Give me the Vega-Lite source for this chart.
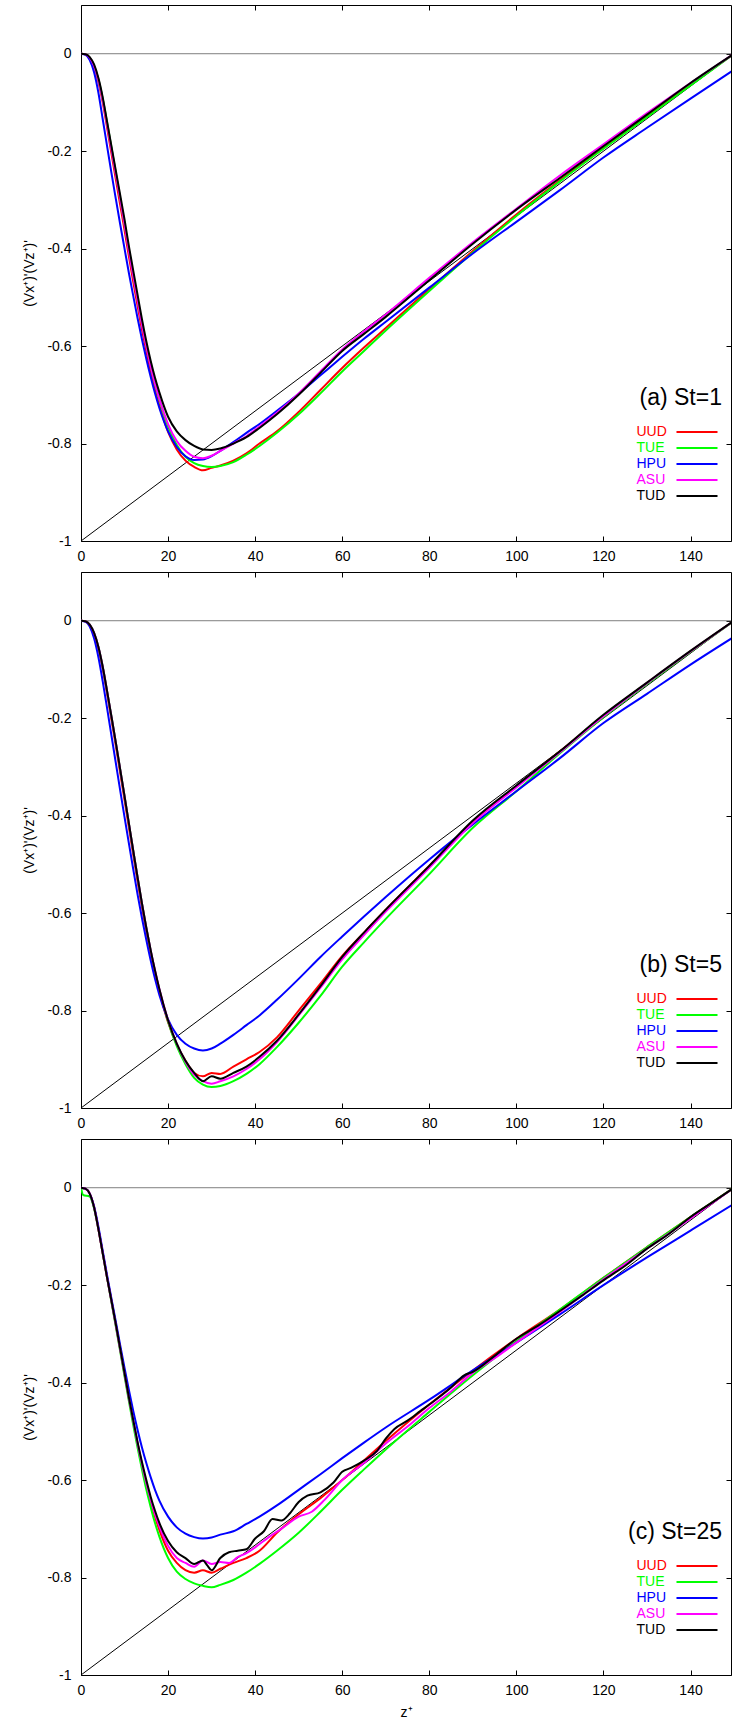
{
"$schema": "https://vega.github.io/schema/vega-lite/v6.json",
"padding": {"left": 22, "top": 4, "right": 0, "bottom": 0},
"config": {
  "view": {"stroke": "black", "strokeWidth": 1},
  "font": "Liberation Sans",
  "axis": {"domain": false, "grid": false, "ticks": true, "tickSize": -5, "tickColor": "black", "tickWidth": 1, "labelFont": "Liberation Sans", "labelFontSize": 14, "labelColor": "black", "labelFlush": false, "titleFont": "Liberation Sans", "titleFontSize": 14, "titleFontWeight": "normal", "titleColor": "black"},
  "legend": {"titleFont": "Liberation Sans", "titleFontSize": 23, "titleFontWeight": "normal", "titleColor": "black", "titleAnchor": "end", "titlePadding": 14, "labelFont": "Liberation Sans", "labelFontSize": 14, "labelOffset": -68.5, "symbolOffset": 62, "symbolType": "M-2.93,0H2.93", "symbolSize": 196, "symbolStrokeWidth": 2, "rowPadding": 1, "padding": 0, "offset": 0}
},
"datasets": {
  "diag": [{"z": 0, "v": -1}, {"z": 150, "v": 0}],
  "zero": [{"v": 0}],
  "curves": [
{"p":"a","s":"UUD","z":0,"v":0},{"p":"a","s":"UUD","z":1,"v":-0.001},{"p":"a","s":"UUD","z":2,"v":-0.009},{"p":"a","s":"UUD","z":3,"v":-0.028},{"p":"a","s":"UUD","z":4,"v":-0.058},{"p":"a","s":"UUD","z":5,"v":-0.1},{"p":"a","s":"UUD","z":6,"v":-0.152},{"p":"a","s":"UUD","z":7,"v":-0.205},{"p":"a","s":"UUD","z":8,"v":-0.258},{"p":"a","s":"UUD","z":9,"v":-0.31},{"p":"a","s":"UUD","z":10,"v":-0.362},{"p":"a","s":"UUD","z":11,"v":-0.416},{"p":"a","s":"UUD","z":12,"v":-0.468},{"p":"a","s":"UUD","z":13,"v":-0.518},{"p":"a","s":"UUD","z":14,"v":-0.566},{"p":"a","s":"UUD","z":15,"v":-0.61},{"p":"a","s":"UUD","z":16,"v":-0.652},{"p":"a","s":"UUD","z":17,"v":-0.69},{"p":"a","s":"UUD","z":18,"v":-0.722},{"p":"a","s":"UUD","z":20,"v":-0.776},{"p":"a","s":"UUD","z":22,"v":-0.812},{"p":"a","s":"UUD","z":24,"v":-0.835},{"p":"a","s":"UUD","z":26,"v":-0.848},{"p":"a","s":"UUD","z":28,"v":-0.855},{"p":"a","s":"UUD","z":30,"v":-0.85},{"p":"a","s":"UUD","z":32,"v":-0.845},{"p":"a","s":"UUD","z":35,"v":-0.835},{"p":"a","s":"UUD","z":38,"v":-0.82},{"p":"a","s":"UUD","z":41,"v":-0.8},{"p":"a","s":"UUD","z":45,"v":-0.775},{"p":"a","s":"UUD","z":50,"v":-0.735},{"p":"a","s":"UUD","z":55,"v":-0.69},{"p":"a","s":"UUD","z":60,"v":-0.645},{"p":"a","s":"UUD","z":65,"v":-0.603},{"p":"a","s":"UUD","z":70,"v":-0.563},{"p":"a","s":"UUD","z":80,"v":-0.483},{"p":"a","s":"UUD","z":90,"v":-0.405},{"p":"a","s":"UUD","z":100,"v":-0.33},{"p":"a","s":"UUD","z":110,"v":-0.26},{"p":"a","s":"UUD","z":120,"v":-0.194},{"p":"a","s":"UUD","z":130,"v":-0.128},{"p":"a","s":"UUD","z":140,"v":-0.063},{"p":"a","s":"UUD","z":150,"v":0},
{"p":"a","s":"TUE","z":0,"v":0},{"p":"a","s":"TUE","z":1,"v":-0.001},{"p":"a","s":"TUE","z":2,"v":-0.008},{"p":"a","s":"TUE","z":3,"v":-0.025},{"p":"a","s":"TUE","z":4,"v":-0.053},{"p":"a","s":"TUE","z":5,"v":-0.093},{"p":"a","s":"TUE","z":6,"v":-0.142},{"p":"a","s":"TUE","z":7,"v":-0.193},{"p":"a","s":"TUE","z":8,"v":-0.245},{"p":"a","s":"TUE","z":9,"v":-0.297},{"p":"a","s":"TUE","z":10,"v":-0.349},{"p":"a","s":"TUE","z":11,"v":-0.402},{"p":"a","s":"TUE","z":12,"v":-0.454},{"p":"a","s":"TUE","z":13,"v":-0.505},{"p":"a","s":"TUE","z":14,"v":-0.553},{"p":"a","s":"TUE","z":15,"v":-0.598},{"p":"a","s":"TUE","z":16,"v":-0.64},{"p":"a","s":"TUE","z":17,"v":-0.678},{"p":"a","s":"TUE","z":18,"v":-0.71},{"p":"a","s":"TUE","z":20,"v":-0.765},{"p":"a","s":"TUE","z":22,"v":-0.803},{"p":"a","s":"TUE","z":24,"v":-0.827},{"p":"a","s":"TUE","z":26,"v":-0.84},{"p":"a","s":"TUE","z":28,"v":-0.846},{"p":"a","s":"TUE","z":30,"v":-0.848},{"p":"a","s":"TUE","z":32,"v":-0.846},{"p":"a","s":"TUE","z":35,"v":-0.838},{"p":"a","s":"TUE","z":38,"v":-0.823},{"p":"a","s":"TUE","z":41,"v":-0.805},{"p":"a","s":"TUE","z":45,"v":-0.778},{"p":"a","s":"TUE","z":50,"v":-0.74},{"p":"a","s":"TUE","z":55,"v":-0.697},{"p":"a","s":"TUE","z":60,"v":-0.652},{"p":"a","s":"TUE","z":65,"v":-0.61},{"p":"a","s":"TUE","z":70,"v":-0.568},{"p":"a","s":"TUE","z":80,"v":-0.487},{"p":"a","s":"TUE","z":90,"v":-0.408},{"p":"a","s":"TUE","z":100,"v":-0.333},{"p":"a","s":"TUE","z":110,"v":-0.262},{"p":"a","s":"TUE","z":120,"v":-0.195},{"p":"a","s":"TUE","z":130,"v":-0.13},{"p":"a","s":"TUE","z":140,"v":-0.065},{"p":"a","s":"TUE","z":150,"v":0},
{"p":"a","s":"HPU","z":0,"v":0},{"p":"a","s":"HPU","z":1,"v":-0.002},{"p":"a","s":"HPU","z":2,"v":-0.013},{"p":"a","s":"HPU","z":3,"v":-0.038},{"p":"a","s":"HPU","z":4,"v":-0.08},{"p":"a","s":"HPU","z":5,"v":-0.135},{"p":"a","s":"HPU","z":6,"v":-0.19},{"p":"a","s":"HPU","z":7,"v":-0.245},{"p":"a","s":"HPU","z":8,"v":-0.298},{"p":"a","s":"HPU","z":9,"v":-0.35},{"p":"a","s":"HPU","z":10,"v":-0.4},{"p":"a","s":"HPU","z":11,"v":-0.45},{"p":"a","s":"HPU","z":12,"v":-0.497},{"p":"a","s":"HPU","z":13,"v":-0.543},{"p":"a","s":"HPU","z":14,"v":-0.586},{"p":"a","s":"HPU","z":15,"v":-0.626},{"p":"a","s":"HPU","z":16,"v":-0.663},{"p":"a","s":"HPU","z":17,"v":-0.697},{"p":"a","s":"HPU","z":18,"v":-0.727},{"p":"a","s":"HPU","z":20,"v":-0.775},{"p":"a","s":"HPU","z":22,"v":-0.807},{"p":"a","s":"HPU","z":24,"v":-0.826},{"p":"a","s":"HPU","z":26,"v":-0.834},{"p":"a","s":"HPU","z":28,"v":-0.833},{"p":"a","s":"HPU","z":30,"v":-0.826},{"p":"a","s":"HPU","z":32,"v":-0.815},{"p":"a","s":"HPU","z":35,"v":-0.797},{"p":"a","s":"HPU","z":38,"v":-0.778},{"p":"a","s":"HPU","z":41,"v":-0.76},{"p":"a","s":"HPU","z":45,"v":-0.733},{"p":"a","s":"HPU","z":50,"v":-0.698},{"p":"a","s":"HPU","z":55,"v":-0.66},{"p":"a","s":"HPU","z":60,"v":-0.622},{"p":"a","s":"HPU","z":65,"v":-0.585},{"p":"a","s":"HPU","z":70,"v":-0.55},{"p":"a","s":"HPU","z":80,"v":-0.48},{"p":"a","s":"HPU","z":90,"v":-0.41},{"p":"a","s":"HPU","z":100,"v":-0.345},{"p":"a","s":"HPU","z":110,"v":-0.28},{"p":"a","s":"HPU","z":120,"v":-0.213},{"p":"a","s":"HPU","z":130,"v":-0.152},{"p":"a","s":"HPU","z":140,"v":-0.092},{"p":"a","s":"HPU","z":150,"v":-0.033},
{"p":"a","s":"ASU","z":0,"v":0},{"p":"a","s":"ASU","z":1,"v":-0.001},{"p":"a","s":"ASU","z":2,"v":-0.008},{"p":"a","s":"ASU","z":3,"v":-0.025},{"p":"a","s":"ASU","z":4,"v":-0.054},{"p":"a","s":"ASU","z":5,"v":-0.095},{"p":"a","s":"ASU","z":6,"v":-0.145},{"p":"a","s":"ASU","z":7,"v":-0.196},{"p":"a","s":"ASU","z":8,"v":-0.247},{"p":"a","s":"ASU","z":9,"v":-0.298},{"p":"a","s":"ASU","z":10,"v":-0.35},{"p":"a","s":"ASU","z":11,"v":-0.405},{"p":"a","s":"ASU","z":12,"v":-0.456},{"p":"a","s":"ASU","z":13,"v":-0.506},{"p":"a","s":"ASU","z":14,"v":-0.556},{"p":"a","s":"ASU","z":15,"v":-0.6},{"p":"a","s":"ASU","z":16,"v":-0.641},{"p":"a","s":"ASU","z":17,"v":-0.677},{"p":"a","s":"ASU","z":18,"v":-0.708},{"p":"a","s":"ASU","z":20,"v":-0.76},{"p":"a","s":"ASU","z":22,"v":-0.795},{"p":"a","s":"ASU","z":24,"v":-0.815},{"p":"a","s":"ASU","z":26,"v":-0.827},{"p":"a","s":"ASU","z":28,"v":-0.83},{"p":"a","s":"ASU","z":30,"v":-0.825},{"p":"a","s":"ASU","z":32,"v":-0.815},{"p":"a","s":"ASU","z":35,"v":-0.8},{"p":"a","s":"ASU","z":38,"v":-0.785},{"p":"a","s":"ASU","z":41,"v":-0.765},{"p":"a","s":"ASU","z":45,"v":-0.737},{"p":"a","s":"ASU","z":50,"v":-0.697},{"p":"a","s":"ASU","z":55,"v":-0.652},{"p":"a","s":"ASU","z":60,"v":-0.607},{"p":"a","s":"ASU","z":65,"v":-0.57},{"p":"a","s":"ASU","z":70,"v":-0.535},{"p":"a","s":"ASU","z":80,"v":-0.46},{"p":"a","s":"ASU","z":90,"v":-0.387},{"p":"a","s":"ASU","z":100,"v":-0.318},{"p":"a","s":"ASU","z":110,"v":-0.25},{"p":"a","s":"ASU","z":120,"v":-0.186},{"p":"a","s":"ASU","z":130,"v":-0.122},{"p":"a","s":"ASU","z":140,"v":-0.06},{"p":"a","s":"ASU","z":150,"v":0},
{"p":"a","s":"TUD","z":0,"v":0},{"p":"a","s":"TUD","z":1,"v":-0.001},{"p":"a","s":"TUD","z":2,"v":-0.007},{"p":"a","s":"TUD","z":3,"v":-0.022},{"p":"a","s":"TUD","z":4,"v":-0.05},{"p":"a","s":"TUD","z":5,"v":-0.09},{"p":"a","s":"TUD","z":6,"v":-0.14},{"p":"a","s":"TUD","z":7,"v":-0.19},{"p":"a","s":"TUD","z":8,"v":-0.24},{"p":"a","s":"TUD","z":9,"v":-0.29},{"p":"a","s":"TUD","z":10,"v":-0.34},{"p":"a","s":"TUD","z":11,"v":-0.395},{"p":"a","s":"TUD","z":12,"v":-0.445},{"p":"a","s":"TUD","z":13,"v":-0.495},{"p":"a","s":"TUD","z":14,"v":-0.545},{"p":"a","s":"TUD","z":15,"v":-0.59},{"p":"a","s":"TUD","z":16,"v":-0.63},{"p":"a","s":"TUD","z":17,"v":-0.665},{"p":"a","s":"TUD","z":18,"v":-0.695},{"p":"a","s":"TUD","z":20,"v":-0.745},{"p":"a","s":"TUD","z":22,"v":-0.775},{"p":"a","s":"TUD","z":24,"v":-0.793},{"p":"a","s":"TUD","z":26,"v":-0.805},{"p":"a","s":"TUD","z":28,"v":-0.812},{"p":"a","s":"TUD","z":30,"v":-0.813},{"p":"a","s":"TUD","z":32,"v":-0.81},{"p":"a","s":"TUD","z":35,"v":-0.8},{"p":"a","s":"TUD","z":38,"v":-0.787},{"p":"a","s":"TUD","z":41,"v":-0.768},{"p":"a","s":"TUD","z":45,"v":-0.74},{"p":"a","s":"TUD","z":50,"v":-0.7},{"p":"a","s":"TUD","z":55,"v":-0.655},{"p":"a","s":"TUD","z":60,"v":-0.61},{"p":"a","s":"TUD","z":65,"v":-0.575},{"p":"a","s":"TUD","z":70,"v":-0.54},{"p":"a","s":"TUD","z":80,"v":-0.465},{"p":"a","s":"TUD","z":90,"v":-0.39},{"p":"a","s":"TUD","z":100,"v":-0.32},{"p":"a","s":"TUD","z":110,"v":-0.255},{"p":"a","s":"TUD","z":120,"v":-0.19},{"p":"a","s":"TUD","z":130,"v":-0.125},{"p":"a","s":"TUD","z":140,"v":-0.06},{"p":"a","s":"TUD","z":150,"v":0},
{"p":"b","s":"UUD","z":0,"v":0},{"p":"b","s":"UUD","z":1,"v":-0.001},{"p":"b","s":"UUD","z":2,"v":-0.009},{"p":"b","s":"UUD","z":3,"v":-0.027},{"p":"b","s":"UUD","z":4,"v":-0.057},{"p":"b","s":"UUD","z":5,"v":-0.099},{"p":"b","s":"UUD","z":6,"v":-0.15},{"p":"b","s":"UUD","z":7,"v":-0.203},{"p":"b","s":"UUD","z":8,"v":-0.257},{"p":"b","s":"UUD","z":9,"v":-0.312},{"p":"b","s":"UUD","z":10,"v":-0.368},{"p":"b","s":"UUD","z":11,"v":-0.424},{"p":"b","s":"UUD","z":12,"v":-0.48},{"p":"b","s":"UUD","z":13,"v":-0.535},{"p":"b","s":"UUD","z":14,"v":-0.588},{"p":"b","s":"UUD","z":15,"v":-0.637},{"p":"b","s":"UUD","z":16,"v":-0.683},{"p":"b","s":"UUD","z":17,"v":-0.724},{"p":"b","s":"UUD","z":18,"v":-0.761},{"p":"b","s":"UUD","z":20,"v":-0.824},{"p":"b","s":"UUD","z":22,"v":-0.87},{"p":"b","s":"UUD","z":24,"v":-0.903},{"p":"b","s":"UUD","z":26,"v":-0.928},{"p":"b","s":"UUD","z":28,"v":-0.935},{"p":"b","s":"UUD","z":30,"v":-0.928},{"p":"b","s":"UUD","z":32,"v":-0.93},{"p":"b","s":"UUD","z":35,"v":-0.915},{"p":"b","s":"UUD","z":38,"v":-0.9},{"p":"b","s":"UUD","z":41,"v":-0.885},{"p":"b","s":"UUD","z":45,"v":-0.855},{"p":"b","s":"UUD","z":50,"v":-0.8},{"p":"b","s":"UUD","z":55,"v":-0.745},{"p":"b","s":"UUD","z":60,"v":-0.688},{"p":"b","s":"UUD","z":65,"v":-0.64},{"p":"b","s":"UUD","z":70,"v":-0.593},{"p":"b","s":"UUD","z":80,"v":-0.503},{"p":"b","s":"UUD","z":90,"v":-0.413},{"p":"b","s":"UUD","z":100,"v":-0.34},{"p":"b","s":"UUD","z":110,"v":-0.268},{"p":"b","s":"UUD","z":120,"v":-0.195},{"p":"b","s":"UUD","z":130,"v":-0.128},{"p":"b","s":"UUD","z":140,"v":-0.063},{"p":"b","s":"UUD","z":150,"v":0},
{"p":"b","s":"TUE","z":0,"v":0},{"p":"b","s":"TUE","z":1,"v":-0.001},{"p":"b","s":"TUE","z":2,"v":-0.008},{"p":"b","s":"TUE","z":3,"v":-0.025},{"p":"b","s":"TUE","z":4,"v":-0.054},{"p":"b","s":"TUE","z":5,"v":-0.095},{"p":"b","s":"TUE","z":6,"v":-0.145},{"p":"b","s":"TUE","z":7,"v":-0.197},{"p":"b","s":"TUE","z":8,"v":-0.25},{"p":"b","s":"TUE","z":9,"v":-0.305},{"p":"b","s":"TUE","z":10,"v":-0.36},{"p":"b","s":"TUE","z":11,"v":-0.416},{"p":"b","s":"TUE","z":12,"v":-0.472},{"p":"b","s":"TUE","z":13,"v":-0.527},{"p":"b","s":"TUE","z":14,"v":-0.58},{"p":"b","s":"TUE","z":15,"v":-0.63},{"p":"b","s":"TUE","z":16,"v":-0.677},{"p":"b","s":"TUE","z":17,"v":-0.72},{"p":"b","s":"TUE","z":18,"v":-0.758},{"p":"b","s":"TUE","z":20,"v":-0.823},{"p":"b","s":"TUE","z":22,"v":-0.873},{"p":"b","s":"TUE","z":24,"v":-0.91},{"p":"b","s":"TUE","z":26,"v":-0.938},{"p":"b","s":"TUE","z":28,"v":-0.952},{"p":"b","s":"TUE","z":30,"v":-0.957},{"p":"b","s":"TUE","z":32,"v":-0.955},{"p":"b","s":"TUE","z":35,"v":-0.945},{"p":"b","s":"TUE","z":38,"v":-0.93},{"p":"b","s":"TUE","z":41,"v":-0.91},{"p":"b","s":"TUE","z":45,"v":-0.875},{"p":"b","s":"TUE","z":50,"v":-0.825},{"p":"b","s":"TUE","z":55,"v":-0.77},{"p":"b","s":"TUE","z":60,"v":-0.71},{"p":"b","s":"TUE","z":65,"v":-0.66},{"p":"b","s":"TUE","z":70,"v":-0.612},{"p":"b","s":"TUE","z":80,"v":-0.52},{"p":"b","s":"TUE","z":90,"v":-0.425},{"p":"b","s":"TUE","z":100,"v":-0.35},{"p":"b","s":"TUE","z":110,"v":-0.272},{"p":"b","s":"TUE","z":120,"v":-0.198},{"p":"b","s":"TUE","z":130,"v":-0.13},{"p":"b","s":"TUE","z":140,"v":-0.064},{"p":"b","s":"TUE","z":150,"v":0},
{"p":"b","s":"HPU","z":0,"v":0},{"p":"b","s":"HPU","z":1,"v":-0.002},{"p":"b","s":"HPU","z":2,"v":-0.012},{"p":"b","s":"HPU","z":3,"v":-0.036},{"p":"b","s":"HPU","z":4,"v":-0.075},{"p":"b","s":"HPU","z":5,"v":-0.125},{"p":"b","s":"HPU","z":6,"v":-0.18},{"p":"b","s":"HPU","z":7,"v":-0.236},{"p":"b","s":"HPU","z":8,"v":-0.292},{"p":"b","s":"HPU","z":9,"v":-0.348},{"p":"b","s":"HPU","z":10,"v":-0.403},{"p":"b","s":"HPU","z":11,"v":-0.457},{"p":"b","s":"HPU","z":12,"v":-0.51},{"p":"b","s":"HPU","z":13,"v":-0.562},{"p":"b","s":"HPU","z":14,"v":-0.61},{"p":"b","s":"HPU","z":15,"v":-0.655},{"p":"b","s":"HPU","z":16,"v":-0.697},{"p":"b","s":"HPU","z":17,"v":-0.735},{"p":"b","s":"HPU","z":18,"v":-0.768},{"p":"b","s":"HPU","z":20,"v":-0.818},{"p":"b","s":"HPU","z":22,"v":-0.85},{"p":"b","s":"HPU","z":24,"v":-0.868},{"p":"b","s":"HPU","z":26,"v":-0.878},{"p":"b","s":"HPU","z":28,"v":-0.882},{"p":"b","s":"HPU","z":30,"v":-0.878},{"p":"b","s":"HPU","z":32,"v":-0.868},{"p":"b","s":"HPU","z":35,"v":-0.85},{"p":"b","s":"HPU","z":38,"v":-0.83},{"p":"b","s":"HPU","z":41,"v":-0.81},{"p":"b","s":"HPU","z":45,"v":-0.778},{"p":"b","s":"HPU","z":50,"v":-0.735},{"p":"b","s":"HPU","z":55,"v":-0.69},{"p":"b","s":"HPU","z":60,"v":-0.648},{"p":"b","s":"HPU","z":65,"v":-0.607},{"p":"b","s":"HPU","z":70,"v":-0.567},{"p":"b","s":"HPU","z":80,"v":-0.49},{"p":"b","s":"HPU","z":90,"v":-0.418},{"p":"b","s":"HPU","z":100,"v":-0.35},{"p":"b","s":"HPU","z":110,"v":-0.282},{"p":"b","s":"HPU","z":120,"v":-0.21},{"p":"b","s":"HPU","z":130,"v":-0.15},{"p":"b","s":"HPU","z":140,"v":-0.09},{"p":"b","s":"HPU","z":150,"v":-0.033},
{"p":"b","s":"ASU","z":0,"v":0},{"p":"b","s":"ASU","z":1,"v":-0.001},{"p":"b","s":"ASU","z":2,"v":-0.008},{"p":"b","s":"ASU","z":3,"v":-0.025},{"p":"b","s":"ASU","z":4,"v":-0.054},{"p":"b","s":"ASU","z":5,"v":-0.095},{"p":"b","s":"ASU","z":6,"v":-0.145},{"p":"b","s":"ASU","z":7,"v":-0.197},{"p":"b","s":"ASU","z":8,"v":-0.25},{"p":"b","s":"ASU","z":9,"v":-0.305},{"p":"b","s":"ASU","z":10,"v":-0.36},{"p":"b","s":"ASU","z":11,"v":-0.416},{"p":"b","s":"ASU","z":12,"v":-0.472},{"p":"b","s":"ASU","z":13,"v":-0.527},{"p":"b","s":"ASU","z":14,"v":-0.58},{"p":"b","s":"ASU","z":15,"v":-0.63},{"p":"b","s":"ASU","z":16,"v":-0.676},{"p":"b","s":"ASU","z":17,"v":-0.718},{"p":"b","s":"ASU","z":18,"v":-0.756},{"p":"b","s":"ASU","z":20,"v":-0.82},{"p":"b","s":"ASU","z":22,"v":-0.868},{"p":"b","s":"ASU","z":24,"v":-0.905},{"p":"b","s":"ASU","z":26,"v":-0.932},{"p":"b","s":"ASU","z":28,"v":-0.945},{"p":"b","s":"ASU","z":30,"v":-0.95},{"p":"b","s":"ASU","z":32,"v":-0.945},{"p":"b","s":"ASU","z":35,"v":-0.935},{"p":"b","s":"ASU","z":38,"v":-0.92},{"p":"b","s":"ASU","z":41,"v":-0.9},{"p":"b","s":"ASU","z":45,"v":-0.865},{"p":"b","s":"ASU","z":50,"v":-0.81},{"p":"b","s":"ASU","z":55,"v":-0.753},{"p":"b","s":"ASU","z":60,"v":-0.695},{"p":"b","s":"ASU","z":65,"v":-0.645},{"p":"b","s":"ASU","z":70,"v":-0.597},{"p":"b","s":"ASU","z":80,"v":-0.507},{"p":"b","s":"ASU","z":90,"v":-0.415},{"p":"b","s":"ASU","z":100,"v":-0.342},{"p":"b","s":"ASU","z":110,"v":-0.27},{"p":"b","s":"ASU","z":120,"v":-0.196},{"p":"b","s":"ASU","z":130,"v":-0.128},{"p":"b","s":"ASU","z":140,"v":-0.063},{"p":"b","s":"ASU","z":150,"v":0},
{"p":"b","s":"TUD","z":0,"v":0},{"p":"b","s":"TUD","z":1,"v":-0.001},{"p":"b","s":"TUD","z":2,"v":-0.008},{"p":"b","s":"TUD","z":3,"v":-0.025},{"p":"b","s":"TUD","z":4,"v":-0.054},{"p":"b","s":"TUD","z":5,"v":-0.095},{"p":"b","s":"TUD","z":6,"v":-0.145},{"p":"b","s":"TUD","z":7,"v":-0.197},{"p":"b","s":"TUD","z":8,"v":-0.25},{"p":"b","s":"TUD","z":9,"v":-0.305},{"p":"b","s":"TUD","z":10,"v":-0.36},{"p":"b","s":"TUD","z":11,"v":-0.416},{"p":"b","s":"TUD","z":12,"v":-0.472},{"p":"b","s":"TUD","z":13,"v":-0.527},{"p":"b","s":"TUD","z":14,"v":-0.58},{"p":"b","s":"TUD","z":15,"v":-0.63},{"p":"b","s":"TUD","z":16,"v":-0.676},{"p":"b","s":"TUD","z":17,"v":-0.718},{"p":"b","s":"TUD","z":18,"v":-0.756},{"p":"b","s":"TUD","z":20,"v":-0.82},{"p":"b","s":"TUD","z":22,"v":-0.868},{"p":"b","s":"TUD","z":24,"v":-0.903},{"p":"b","s":"TUD","z":26,"v":-0.928},{"p":"b","s":"TUD","z":28,"v":-0.945},{"p":"b","s":"TUD","z":30,"v":-0.935},{"p":"b","s":"TUD","z":32,"v":-0.94},{"p":"b","s":"TUD","z":35,"v":-0.928},{"p":"b","s":"TUD","z":38,"v":-0.915},{"p":"b","s":"TUD","z":41,"v":-0.895},{"p":"b","s":"TUD","z":45,"v":-0.862},{"p":"b","s":"TUD","z":50,"v":-0.808},{"p":"b","s":"TUD","z":55,"v":-0.75},{"p":"b","s":"TUD","z":60,"v":-0.69},{"p":"b","s":"TUD","z":65,"v":-0.64},{"p":"b","s":"TUD","z":70,"v":-0.593},{"p":"b","s":"TUD","z":80,"v":-0.503},{"p":"b","s":"TUD","z":90,"v":-0.41},{"p":"b","s":"TUD","z":100,"v":-0.338},{"p":"b","s":"TUD","z":110,"v":-0.268},{"p":"b","s":"TUD","z":120,"v":-0.193},{"p":"b","s":"TUD","z":130,"v":-0.127},{"p":"b","s":"TUD","z":140,"v":-0.062},{"p":"b","s":"TUD","z":150,"v":0},
{"p":"c","s":"UUD","z":0,"v":0},{"p":"c","s":"UUD","z":1,"v":-0.002},{"p":"c","s":"UUD","z":2,"v":-0.012},{"p":"c","s":"UUD","z":3,"v":-0.04},{"p":"c","s":"UUD","z":4,"v":-0.085},{"p":"c","s":"UUD","z":5,"v":-0.135},{"p":"c","s":"UUD","z":6,"v":-0.185},{"p":"c","s":"UUD","z":7,"v":-0.233},{"p":"c","s":"UUD","z":8,"v":-0.282},{"p":"c","s":"UUD","z":9,"v":-0.332},{"p":"c","s":"UUD","z":10,"v":-0.383},{"p":"c","s":"UUD","z":11,"v":-0.433},{"p":"c","s":"UUD","z":12,"v":-0.48},{"p":"c","s":"UUD","z":13,"v":-0.526},{"p":"c","s":"UUD","z":14,"v":-0.568},{"p":"c","s":"UUD","z":15,"v":-0.607},{"p":"c","s":"UUD","z":16,"v":-0.643},{"p":"c","s":"UUD","z":17,"v":-0.675},{"p":"c","s":"UUD","z":18,"v":-0.702},{"p":"c","s":"UUD","z":20,"v":-0.745},{"p":"c","s":"UUD","z":22,"v":-0.77},{"p":"c","s":"UUD","z":24,"v":-0.785},{"p":"c","s":"UUD","z":26,"v":-0.79},{"p":"c","s":"UUD","z":28,"v":-0.785},{"p":"c","s":"UUD","z":30,"v":-0.79},{"p":"c","s":"UUD","z":32,"v":-0.782},{"p":"c","s":"UUD","z":35,"v":-0.77},{"p":"c","s":"UUD","z":38,"v":-0.76},{"p":"c","s":"UUD","z":41,"v":-0.745},{"p":"c","s":"UUD","z":45,"v":-0.708},{"p":"c","s":"UUD","z":50,"v":-0.67},{"p":"c","s":"UUD","z":55,"v":-0.637},{"p":"c","s":"UUD","z":60,"v":-0.6},{"p":"c","s":"UUD","z":65,"v":-0.56},{"p":"c","s":"UUD","z":70,"v":-0.52},{"p":"c","s":"UUD","z":80,"v":-0.445},{"p":"c","s":"UUD","z":90,"v":-0.375},{"p":"c","s":"UUD","z":100,"v":-0.31},{"p":"c","s":"UUD","z":110,"v":-0.25},{"p":"c","s":"UUD","z":120,"v":-0.185},{"p":"c","s":"UUD","z":130,"v":-0.122},{"p":"c","s":"UUD","z":140,"v":-0.06},{"p":"c","s":"UUD","z":150,"v":0},
{"p":"c","s":"TUE","z":0,"v":0},{"p":"c","s":"TUE","z":0.5,"v":-0.015},{"p":"c","s":"TUE","z":2,"v":-0.018},{"p":"c","s":"TUE","z":3,"v":-0.042},{"p":"c","s":"TUE","z":4,"v":-0.085},{"p":"c","s":"TUE","z":5,"v":-0.135},{"p":"c","s":"TUE","z":6,"v":-0.185},{"p":"c","s":"TUE","z":7,"v":-0.235},{"p":"c","s":"TUE","z":8,"v":-0.285},{"p":"c","s":"TUE","z":9,"v":-0.336},{"p":"c","s":"TUE","z":10,"v":-0.387},{"p":"c","s":"TUE","z":11,"v":-0.438},{"p":"c","s":"TUE","z":12,"v":-0.487},{"p":"c","s":"TUE","z":13,"v":-0.534},{"p":"c","s":"TUE","z":14,"v":-0.578},{"p":"c","s":"TUE","z":15,"v":-0.619},{"p":"c","s":"TUE","z":16,"v":-0.655},{"p":"c","s":"TUE","z":17,"v":-0.688},{"p":"c","s":"TUE","z":18,"v":-0.716},{"p":"c","s":"TUE","z":20,"v":-0.76},{"p":"c","s":"TUE","z":22,"v":-0.788},{"p":"c","s":"TUE","z":24,"v":-0.803},{"p":"c","s":"TUE","z":26,"v":-0.812},{"p":"c","s":"TUE","z":28,"v":-0.817},{"p":"c","s":"TUE","z":30,"v":-0.82},{"p":"c","s":"TUE","z":32,"v":-0.815},{"p":"c","s":"TUE","z":35,"v":-0.805},{"p":"c","s":"TUE","z":38,"v":-0.79},{"p":"c","s":"TUE","z":41,"v":-0.772},{"p":"c","s":"TUE","z":45,"v":-0.745},{"p":"c","s":"TUE","z":50,"v":-0.708},{"p":"c","s":"TUE","z":55,"v":-0.665},{"p":"c","s":"TUE","z":60,"v":-0.62},{"p":"c","s":"TUE","z":65,"v":-0.578},{"p":"c","s":"TUE","z":70,"v":-0.537},{"p":"c","s":"TUE","z":80,"v":-0.46},{"p":"c","s":"TUE","z":90,"v":-0.385},{"p":"c","s":"TUE","z":100,"v":-0.315},{"p":"c","s":"TUE","z":110,"v":-0.25},{"p":"c","s":"TUE","z":120,"v":-0.185},{"p":"c","s":"TUE","z":130,"v":-0.122},{"p":"c","s":"TUE","z":140,"v":-0.06},{"p":"c","s":"TUE","z":150,"v":0},
{"p":"c","s":"HPU","z":0,"v":0},{"p":"c","s":"HPU","z":1,"v":-0.002},{"p":"c","s":"HPU","z":2,"v":-0.012},{"p":"c","s":"HPU","z":3,"v":-0.038},{"p":"c","s":"HPU","z":4,"v":-0.08},{"p":"c","s":"HPU","z":5,"v":-0.13},{"p":"c","s":"HPU","z":6,"v":-0.18},{"p":"c","s":"HPU","z":7,"v":-0.228},{"p":"c","s":"HPU","z":8,"v":-0.275},{"p":"c","s":"HPU","z":9,"v":-0.323},{"p":"c","s":"HPU","z":10,"v":-0.37},{"p":"c","s":"HPU","z":11,"v":-0.415},{"p":"c","s":"HPU","z":12,"v":-0.458},{"p":"c","s":"HPU","z":13,"v":-0.497},{"p":"c","s":"HPU","z":14,"v":-0.533},{"p":"c","s":"HPU","z":15,"v":-0.565},{"p":"c","s":"HPU","z":16,"v":-0.594},{"p":"c","s":"HPU","z":17,"v":-0.62},{"p":"c","s":"HPU","z":18,"v":-0.642},{"p":"c","s":"HPU","z":20,"v":-0.675},{"p":"c","s":"HPU","z":22,"v":-0.697},{"p":"c","s":"HPU","z":24,"v":-0.71},{"p":"c","s":"HPU","z":26,"v":-0.717},{"p":"c","s":"HPU","z":28,"v":-0.72},{"p":"c","s":"HPU","z":30,"v":-0.718},{"p":"c","s":"HPU","z":32,"v":-0.712},{"p":"c","s":"HPU","z":35,"v":-0.705},{"p":"c","s":"HPU","z":38,"v":-0.69},{"p":"c","s":"HPU","z":41,"v":-0.675},{"p":"c","s":"HPU","z":45,"v":-0.652},{"p":"c","s":"HPU","z":50,"v":-0.62},{"p":"c","s":"HPU","z":55,"v":-0.588},{"p":"c","s":"HPU","z":60,"v":-0.555},{"p":"c","s":"HPU","z":65,"v":-0.523},{"p":"c","s":"HPU","z":70,"v":-0.492},{"p":"c","s":"HPU","z":80,"v":-0.435},{"p":"c","s":"HPU","z":90,"v":-0.375},{"p":"c","s":"HPU","z":100,"v":-0.318},{"p":"c","s":"HPU","z":110,"v":-0.26},{"p":"c","s":"HPU","z":120,"v":-0.2},{"p":"c","s":"HPU","z":130,"v":-0.143},{"p":"c","s":"HPU","z":140,"v":-0.088},{"p":"c","s":"HPU","z":150,"v":-0.033},
{"p":"c","s":"ASU","z":0,"v":0},{"p":"c","s":"ASU","z":1,"v":-0.002},{"p":"c","s":"ASU","z":2,"v":-0.012},{"p":"c","s":"ASU","z":3,"v":-0.04},{"p":"c","s":"ASU","z":4,"v":-0.085},{"p":"c","s":"ASU","z":5,"v":-0.135},{"p":"c","s":"ASU","z":6,"v":-0.185},{"p":"c","s":"ASU","z":7,"v":-0.233},{"p":"c","s":"ASU","z":8,"v":-0.282},{"p":"c","s":"ASU","z":9,"v":-0.332},{"p":"c","s":"ASU","z":10,"v":-0.382},{"p":"c","s":"ASU","z":11,"v":-0.432},{"p":"c","s":"ASU","z":12,"v":-0.479},{"p":"c","s":"ASU","z":13,"v":-0.525},{"p":"c","s":"ASU","z":14,"v":-0.567},{"p":"c","s":"ASU","z":15,"v":-0.606},{"p":"c","s":"ASU","z":16,"v":-0.64},{"p":"c","s":"ASU","z":17,"v":-0.67},{"p":"c","s":"ASU","z":18,"v":-0.695},{"p":"c","s":"ASU","z":20,"v":-0.735},{"p":"c","s":"ASU","z":22,"v":-0.76},{"p":"c","s":"ASU","z":24,"v":-0.77},{"p":"c","s":"ASU","z":26,"v":-0.778},{"p":"c","s":"ASU","z":28,"v":-0.765},{"p":"c","s":"ASU","z":30,"v":-0.772},{"p":"c","s":"ASU","z":32,"v":-0.768},{"p":"c","s":"ASU","z":34,"v":-0.77},{"p":"c","s":"ASU","z":36,"v":-0.758},{"p":"c","s":"ASU","z":38,"v":-0.75},{"p":"c","s":"ASU","z":40,"v":-0.738},{"p":"c","s":"ASU","z":43,"v":-0.718},{"p":"c","s":"ASU","z":46,"v":-0.7},{"p":"c","s":"ASU","z":50,"v":-0.675},{"p":"c","s":"ASU","z":53,"v":-0.665},{"p":"c","s":"ASU","z":56,"v":-0.64},{"p":"c","s":"ASU","z":60,"v":-0.6},{"p":"c","s":"ASU","z":65,"v":-0.565},{"p":"c","s":"ASU","z":70,"v":-0.525},{"p":"c","s":"ASU","z":75,"v":-0.49},{"p":"c","s":"ASU","z":80,"v":-0.452},{"p":"c","s":"ASU","z":85,"v":-0.418},{"p":"c","s":"ASU","z":90,"v":-0.38},{"p":"c","s":"ASU","z":95,"v":-0.35},{"p":"c","s":"ASU","z":100,"v":-0.318},{"p":"c","s":"ASU","z":110,"v":-0.255},{"p":"c","s":"ASU","z":120,"v":-0.188},{"p":"c","s":"ASU","z":130,"v":-0.125},{"p":"c","s":"ASU","z":140,"v":-0.063},{"p":"c","s":"ASU","z":150,"v":0},
{"p":"c","s":"TUD","z":0,"v":0},{"p":"c","s":"TUD","z":1,"v":-0.002},{"p":"c","s":"TUD","z":2,"v":-0.012},{"p":"c","s":"TUD","z":3,"v":-0.04},{"p":"c","s":"TUD","z":4,"v":-0.085},{"p":"c","s":"TUD","z":5,"v":-0.135},{"p":"c","s":"TUD","z":6,"v":-0.185},{"p":"c","s":"TUD","z":7,"v":-0.232},{"p":"c","s":"TUD","z":8,"v":-0.28},{"p":"c","s":"TUD","z":9,"v":-0.33},{"p":"c","s":"TUD","z":10,"v":-0.38},{"p":"c","s":"TUD","z":11,"v":-0.43},{"p":"c","s":"TUD","z":12,"v":-0.477},{"p":"c","s":"TUD","z":13,"v":-0.522},{"p":"c","s":"TUD","z":14,"v":-0.563},{"p":"c","s":"TUD","z":15,"v":-0.6},{"p":"c","s":"TUD","z":16,"v":-0.634},{"p":"c","s":"TUD","z":17,"v":-0.663},{"p":"c","s":"TUD","z":18,"v":-0.688},{"p":"c","s":"TUD","z":20,"v":-0.725},{"p":"c","s":"TUD","z":22,"v":-0.748},{"p":"c","s":"TUD","z":24,"v":-0.76},{"p":"c","s":"TUD","z":26,"v":-0.772},{"p":"c","s":"TUD","z":28,"v":-0.765},{"p":"c","s":"TUD","z":29,"v":-0.775},{"p":"c","s":"TUD","z":30,"v":-0.785},{"p":"c","s":"TUD","z":32,"v":-0.76},{"p":"c","s":"TUD","z":34,"v":-0.748},{"p":"c","s":"TUD","z":36,"v":-0.745},{"p":"c","s":"TUD","z":38,"v":-0.742},{"p":"c","s":"TUD","z":40,"v":-0.72},{"p":"c","s":"TUD","z":42,"v":-0.705},{"p":"c","s":"TUD","z":44,"v":-0.68},{"p":"c","s":"TUD","z":46,"v":-0.683},{"p":"c","s":"TUD","z":48,"v":-0.668},{"p":"c","s":"TUD","z":50,"v":-0.645},{"p":"c","s":"TUD","z":52,"v":-0.632},{"p":"c","s":"TUD","z":55,"v":-0.625},{"p":"c","s":"TUD","z":58,"v":-0.605},{"p":"c","s":"TUD","z":60,"v":-0.583},{"p":"c","s":"TUD","z":62,"v":-0.575},{"p":"c","s":"TUD","z":65,"v":-0.56},{"p":"c","s":"TUD","z":68,"v":-0.54},{"p":"c","s":"TUD","z":70,"v":-0.515},{"p":"c","s":"TUD","z":72,"v":-0.495},{"p":"c","s":"TUD","z":75,"v":-0.478},{"p":"c","s":"TUD","z":78,"v":-0.458},{"p":"c","s":"TUD","z":80,"v":-0.445},{"p":"c","s":"TUD","z":85,"v":-0.41},{"p":"c","s":"TUD","z":88,"v":-0.385},{"p":"c","s":"TUD","z":90,"v":-0.378},{"p":"c","s":"TUD","z":95,"v":-0.345},{"p":"c","s":"TUD","z":100,"v":-0.31},{"p":"c","s":"TUD","z":105,"v":-0.283},{"p":"c","s":"TUD","z":110,"v":-0.253},{"p":"c","s":"TUD","z":115,"v":-0.222},{"p":"c","s":"TUD","z":120,"v":-0.19},{"p":"c","s":"TUD","z":125,"v":-0.16},{"p":"c","s":"TUD","z":130,"v":-0.125},{"p":"c","s":"TUD","z":135,"v":-0.095},{"p":"c","s":"TUD","z":140,"v":-0.06},{"p":"c","s":"TUD","z":145,"v":-0.03},{"p":"c","s":"TUD","z":150,"v":0}
  ]
},
"spacing": 7,
"resolve": {"legend": {"color": "independent"}},
"vconcat": [
 {"width": 650, "height": 536,
  "layer": [
   {"data": {"name": "diag"}, "mark": {"type": "line", "color": "black", "strokeWidth": 1, "clip": true},
    "encoding": {
     "x": {"field": "z", "type": "quantitative", "scale": {"domain": [0, 149.3], "nice": false, "zero": false}, "axis": {"orient": "bottom", "values": [0,20,40,60,80,100,120,140], "title": null, "labelPadding": 13}},
     "y": {"field": "v", "type": "quantitative", "scale": {"domain": [-1, 0.1], "nice": false, "zero": false}, "axis": {"orient": "left", "values": [-1,-0.8,-0.6,-0.4,-0.2,0], "title": "(Vx⁺)'(Vz⁺)'", "labelExpr": "replace(format(datum.value, '~g'), '−', '-')", "labelPadding": 15, "titlePadding": 10}}}},
   {"data": {"name": "zero"}, "mark": {"type": "rule", "color": "#7f7f7f", "strokeWidth": 1},
    "encoding": {"y": {"field": "v", "type": "quantitative", "axis": null}}},
   {"data": {"name": "curves"}, "transform": [{"filter": "datum.p === 'a'"}],
    "mark": {"type": "line", "strokeWidth": 2, "clip": true, "interpolate": "monotone"},
    "encoding": {
     "x": {"field": "z", "type": "quantitative", "axis": {"orient": "top", "values": [0,20,40,60,80,100,120,140], "labels": false, "title": null}},
     "y": {"field": "v", "type": "quantitative", "axis": {"orient": "right", "values": [-1,-0.8,-0.6,-0.4,-0.2,0], "labels": false, "title": null}},
     "color": {"field": "s", "type": "nominal", "scale": {"domain": ["UUD","TUE","HPU","ASU","TUD"], "range": ["#ff0000","#00ff00","#0000ff","#ff00ff","#000000"]},
      "legend": {"title": "(a) St=1", "orient": "none", "legendX": 546, "legendY": 382, "labelColor": {"expr": "datum.value === 'UUD' ? '#ff0000' : datum.value === 'TUE' ? '#00ff00' : datum.value === 'HPU' ? '#0000ff' : datum.value === 'ASU' ? '#ff00ff' : '#000000'"}}}}}
  ],
  "resolve": {"axis": {"x": "independent", "y": "independent"}}
 },
 {"width": 650, "height": 536,
  "layer": [
   {"data": {"name": "diag"}, "mark": {"type": "line", "color": "black", "strokeWidth": 1, "clip": true},
    "encoding": {
     "x": {"field": "z", "type": "quantitative", "scale": {"domain": [0, 149.3], "nice": false, "zero": false}, "axis": {"orient": "bottom", "values": [0,20,40,60,80,100,120,140], "title": null, "labelPadding": 13}},
     "y": {"field": "v", "type": "quantitative", "scale": {"domain": [-1, 0.1], "nice": false, "zero": false}, "axis": {"orient": "left", "values": [-1,-0.8,-0.6,-0.4,-0.2,0], "title": "(Vx⁺)'(Vz⁺)'", "labelExpr": "replace(format(datum.value, '~g'), '−', '-')", "labelPadding": 15, "titlePadding": 10}}}},
   {"data": {"name": "zero"}, "mark": {"type": "rule", "color": "#7f7f7f", "strokeWidth": 1},
    "encoding": {"y": {"field": "v", "type": "quantitative", "axis": null}}},
   {"data": {"name": "curves"}, "transform": [{"filter": "datum.p === 'b'"}],
    "mark": {"type": "line", "strokeWidth": 2, "clip": true, "interpolate": "monotone"},
    "encoding": {
     "x": {"field": "z", "type": "quantitative", "axis": {"orient": "top", "values": [0,20,40,60,80,100,120,140], "labels": false, "title": null}},
     "y": {"field": "v", "type": "quantitative", "axis": {"orient": "right", "values": [-1,-0.8,-0.6,-0.4,-0.2,0], "labels": false, "title": null}},
     "color": {"field": "s", "type": "nominal", "scale": {"domain": ["UUD","TUE","HPU","ASU","TUD"], "range": ["#ff0000","#00ff00","#0000ff","#ff00ff","#000000"]},
      "legend": {"title": "(b) St=5", "orient": "none", "legendX": 546, "legendY": 382, "labelColor": {"expr": "datum.value === 'UUD' ? '#ff0000' : datum.value === 'TUE' ? '#00ff00' : datum.value === 'HPU' ? '#0000ff' : datum.value === 'ASU' ? '#ff00ff' : '#000000'"}}}}}
  ],
  "resolve": {"axis": {"x": "independent", "y": "independent"}}
 },
 {"width": 650, "height": 536,
  "layer": [
   {"data": {"name": "diag"}, "mark": {"type": "line", "color": "black", "strokeWidth": 1, "clip": true},
    "encoding": {
     "x": {"field": "z", "type": "quantitative", "scale": {"domain": [0, 149.3], "nice": false, "zero": false}, "axis": {"orient": "bottom", "values": [0,20,40,60,80,100,120,140], "title": "z⁺", "labelPadding": 13, "titlePadding": 8}},
     "y": {"field": "v", "type": "quantitative", "scale": {"domain": [-1, 0.1], "nice": false, "zero": false}, "axis": {"orient": "left", "values": [-1,-0.8,-0.6,-0.4,-0.2,0], "title": "(Vx⁺)'(Vz⁺)'", "labelExpr": "replace(format(datum.value, '~g'), '−', '-')", "labelPadding": 15, "titlePadding": 10}}}},
   {"data": {"name": "zero"}, "mark": {"type": "rule", "color": "#7f7f7f", "strokeWidth": 1},
    "encoding": {"y": {"field": "v", "type": "quantitative", "axis": null}}},
   {"data": {"name": "curves"}, "transform": [{"filter": "datum.p === 'c'"}],
    "mark": {"type": "line", "strokeWidth": 2, "clip": true, "interpolate": "monotone"},
    "encoding": {
     "x": {"field": "z", "type": "quantitative", "axis": {"orient": "top", "values": [0,20,40,60,80,100,120,140], "labels": false, "title": null}},
     "y": {"field": "v", "type": "quantitative", "axis": {"orient": "right", "values": [-1,-0.8,-0.6,-0.4,-0.2,0], "labels": false, "title": null}},
     "color": {"field": "s", "type": "nominal", "scale": {"domain": ["UUD","TUE","HPU","ASU","TUD"], "range": ["#ff0000","#00ff00","#0000ff","#ff00ff","#000000"]},
      "legend": {"title": "(c) St=25", "orient": "none", "legendX": 546, "legendY": 382, "labelColor": {"expr": "datum.value === 'UUD' ? '#ff0000' : datum.value === 'TUE' ? '#00ff00' : datum.value === 'HPU' ? '#0000ff' : datum.value === 'ASU' ? '#ff00ff' : '#000000'"}}}}}
  ],
  "resolve": {"axis": {"x": "independent", "y": "independent"}}
 }
]
}
